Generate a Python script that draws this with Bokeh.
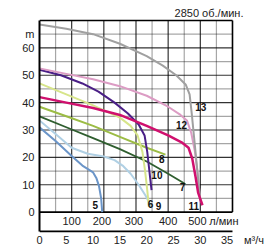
from bokeh.plotting import figure
from bokeh.models import FixedTicker, Label, Range1d
from bokeh.core.properties import value
from bokeh.embed import file_html
from bokeh.resources import INLINE

FONT = "Liberation Sans"

# ---------------- data ----------------
q_ticks = [0, 5, 10, 15, 20, 25, 30, 35]          # m3/h
q_unit_tick = 40
h_ticks = [0, 10, 20, 30, 40, 50, 60]             # m
h_unit_tick = 65
lpm_labels = [100, 200, 300, 400, 500]            # l/min
lpm_grid_major = [100, 200, 300, 400, 500]
lpm_grid_minor = [50, 150, 250, 350, 450, 550]
h_grid_major = [10, 20, 30, 40, 50, 60]
h_grid_minor = [5, 15, 25, 35, 45, 55, 65]
LPM_TO_M3H = 0.06
rpm_text = "2850 об./мин."

curve_names = ["5", "6", "7", "8", "9", "10", "12", "13", "11"]
q5 = [0, 3, 6, 8, 10, 10.6, 11.1, 11.5, 11.7]
h5 = [31, 26, 20.5, 17, 14.5, 12.5, 9.5, 5, 0]
q6 = [0, 3, 6, 9, 12, 14, 15.5, 17, 18.5, 19.8, 20.7, 21]
h6 = [33.5, 28.5, 23.5, 21.3, 20.3, 19, 17, 14, 10, 6, 2.5, 1.5]
q7 = [0, 5, 10, 15, 20, 24, 27.2]
h7 = [35, 31, 27, 23, 18.5, 14, 10.3]
q8 = [0, 5, 10, 15, 20, 23.5]
h8 = [38.5, 35, 31.5, 27.5, 23.5, 21]
q9 = [0, 5, 10, 15, 17, 18.3, 19.2, 19.7, 20.1, 20.4]
h9 = [47, 43, 39, 34.5, 31.5, 28, 22, 15, 8, 2]
q10 = [0, 4, 8, 11, 14, 16.5, 18.5, 19.6, 20.1, 20.5, 20.9]
h10 = [52, 50, 47, 44, 40, 36, 32, 28, 22, 15, 8]
q11 = [0, 5, 10, 15, 20, 24, 26.5, 27.8, 28.5, 29.1, 29.6, 30.4]
h11 = [42, 40, 38, 35.5, 31.5, 28, 25.5, 23.5, 19.5, 13, 7, 2.5]
q12 = [0, 5, 10, 15, 20, 24, 26.3, 27.5, 28.3, 29, 29.5, 29.9, 30]
h12 = [52.5, 50.5, 48.5, 46, 42.5, 38.5, 35.5, 33.5, 29, 22, 14, 6, 3.5]
q13 = [0, 5, 10, 15, 20, 23, 25.5, 27.3, 28, 28.4, 28.8, 29.3, 29.7, 30]
h13 = [68.5, 67, 65, 61.5, 57, 53.5, 50, 46.5, 43, 36, 28, 18, 10, 4]

curves = {"5": (q5, h5), "6": (q6, h6), "7": (q7, h7), "8": (q8, h8),
          "9": (q9, h9), "10": (q10, h10), "11": (q11, h11),
          "12": (q12, h12), "13": (q13, h13)}

# label anchors (q, h) for curve numbers
label_pos = {"5": (10.4, 2.7), "6": (20.7, 3.0), "7": (26.7, 9.3), "8": (22.8, 19.5),
             "9": (22.2, 2.4), "10": (21.9, 13.7), "11": (28.8, 2.4),
             "12": (26.5, 32.0), "13": (30.1, 38.5)}

styles = {"5": ("#6b95c8", 2), "6": ("#b0d0e4", 2), "7": ("#2f5e2f", 1.8),
          "8": ("#9cbc45", 2), "9": ("#d7e58a", 2), "10": ("#4a1f86", 2),
          "11": ("#d0106e", 2.5), "12": ("#dc9cc4", 2), "13": ("#a0a0a0", 2)}

# chart box (data units)
X_MAX = 36
Y_MAX = 70
Y_BOTTOM = -7.1
VIEW_X = (0, 43.09)
VIEW_Y = (-7.45, 77.3)

p = figure(width=270, height=250, x_range=Range1d(*VIEW_X), y_range=Range1d(*VIEW_Y),
           output_backend="svg", toolbar_location=None, title=None,
           min_border_left=39, min_border_right=0, min_border_top=0, min_border_bottom=18)
p.outline_line_color = None
p.xgrid.visible = False
p.ygrid.visible = False

# frame borders: top, right, zero line, bottom line
p.line([0, X_MAX], [Y_MAX, Y_MAX], line_color="black", line_width=1.6)
p.line([X_MAX, X_MAX], [0, Y_MAX], line_color="black", line_width=1.6)
p.line([0, X_MAX], [0, 0], line_color="black", line_width=1.6)
p.line([0, X_MAX], [Y_BOTTOM, Y_BOTTOM], line_color="black", line_width=2)

# grid lines (only in the 0..70 m region), black with alpha for the grey tone
qmaj = [v * LPM_TO_M3H for v in lpm_grid_major]
qmin = [v * LPM_TO_M3H for v in lpm_grid_minor]
for q in qmin:
    p.line([q, q], [0, Y_MAX], line_color="black", line_alpha=0.35, line_width=1.2)
for h in h_grid_minor:
    p.line([0, X_MAX], [h, h], line_color="black", line_alpha=0.35, line_width=1.2)
for q in qmaj:
    p.line([q, q], [0, Y_MAX], line_color="black", line_alpha=0.8, line_width=1.2)
for h in h_grid_major:
    p.line([0, X_MAX], [h, h], line_color="black", line_alpha=0.8, line_width=1.2)

# axes
p.xaxis.ticker = FixedTicker(ticks=q_ticks + [q_unit_tick])
p.xaxis.major_label_overrides = {q_unit_tick: "м³/ч"}
p.xaxis.axis_line_color = None
p.yaxis.ticker = FixedTicker(ticks=h_ticks + [h_unit_tick])
p.yaxis.major_label_overrides = {h_unit_tick: "m"}
p.yaxis.bounds = (Y_BOTTOM, Y_MAX)
p.yaxis.axis_line_width = 2
p.yaxis.axis_line_color = "black"
for ax in (p.xaxis, p.yaxis):
    ax.major_tick_out = 0
    ax.major_tick_in = 0
    ax.minor_tick_line_color = None
    ax.major_label_text_font = FONT
    ax.major_label_text_font_size = "11px"
    ax.major_label_text_color = "#222222"
p.xaxis.major_label_standoff = 1
p.yaxis.major_label_standoff = 5

# curves
for name in curve_names:
    q, h = curves[name]
    c, w = styles[name]
    p.line(q, h, line_color=c, line_width=w, line_join="round")

# curve numbers
p.text(x=[label_pos[n][0] for n in curve_names], y=[label_pos[n][1] for n in curve_names],
       text=curve_names, text_font=value(FONT), text_font_size="10px", text_font_style="bold",
       text_align="center", text_baseline="middle", text_color="#111111")

# l/min labels in band
lpm_y = -3.1
p.text(x=[v * LPM_TO_M3H for v in lpm_labels], y=[lpm_y] * len(lpm_labels),
       text=[str(v) for v in lpm_labels], x_offset=[0, -2, -2, 0, -3],
       text_font=value(FONT), text_font_size="11px", text_align="center",
       text_baseline="middle", text_color="#222222")
p.add_layout(Label(x=lpm_labels[-1] * LPM_TO_M3H, y=lpm_y, x_offset=9, text="л/мин",
                   text_font=FONT, text_font_size="11px", text_align="left",
                   text_baseline="middle", text_color="#222222"))
# rpm
p.add_layout(Label(x=38.05, y=72.9, text=rpm_text,
                   text_font=FONT, text_font_size="11px", text_align="right",
                   text_baseline="middle", text_color="#222222"))

open("out.html", "w").write(file_html(p, INLINE))
